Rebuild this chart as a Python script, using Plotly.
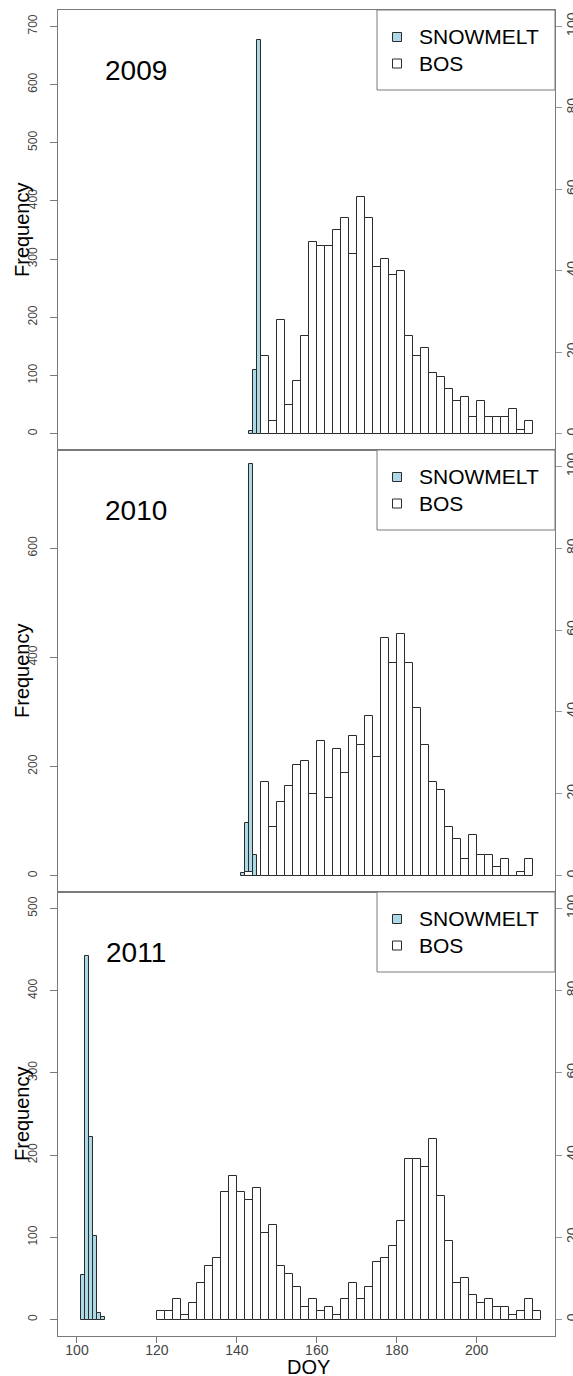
import plotly.graph_objects as go

# ---------------- data ----------------
# Snowmelt histograms (1-day bins, left axis counts)
snow_2009_edges = [143, 144, 145]
snow_2009_counts = [4, 109, 676]
snow_2010_edges = [141, 142, 143, 144]
snow_2010_counts = [5, 96, 754, 38]
snow_2011_edges = [101, 102, 103, 104, 105, 106]
snow_2011_counts = [54, 442, 222, 102, 8, 3]

# BOS histograms (2-day bins, right axis counts)
bos_2009_start = 146
bos_2009_counts = [19, 3, 28, 7, 13, 24, 47, 46, 46, 50, 53, 44, 58, 53, 41, 43, 39,
                   40, 24, 19, 21, 15, 14, 11, 8, 9, 4, 8, 4, 4, 4, 6, 1, 3]
bos_2010_start = 142
bos_2010_counts = [1, 0, 23, 12, 18, 22, 27, 28, 20, 33, 19, 31, 25, 34, 32, 39, 29,
                   58, 52, 59, 52, 41, 32, 23, 21, 12, 9, 4, 10, 5, 5, 2, 4, 0, 1, 4]
bos_2011_start = 120
bos_2011_counts = [2, 2, 5, 1, 4, 9, 13, 15, 31, 35, 31, 29, 32, 21, 23, 13, 11, 8,
                   3, 5, 2, 3, 1, 5, 9, 5, 8, 14, 15, 18, 24, 39, 39, 37, 44, 30, 19,
                   9, 10, 6, 4, 5, 3, 3, 1, 2, 5, 2]

years = ["2009", "2010", "2011"]
left_max = [700, 750, 500]
left_ticks = [[0, 100, 200, 300, 400, 500, 600, 700], [0, 200, 400, 600],
              [0, 100, 200, 300, 400, 500]]
right_ticks = [0, 20, 40, 60, 80, 100]
x_ticks = [100, 120, 140, 160, 180, 200]
x_range = [95.25, 219.6]

# ---------------- layout geometry (pixels) ----------------
W, H = 573, 1376
ML, MR, MT, MB = 58, 18, 10, 40
panel_px = [(10, 450), (450, 892), (892, 1336)]  # top, bottom
plot_h = H - MT - MB
plot_w = W - ML - MR


def py(Y):
    return (H - MB - Y) / plot_h


FONT = "Liberation Sans, Arial, Helvetica, sans-serif"
BOX = "#7a7a7a"
BAR_LINE = "#2b2b2b"
SNOW = "#add8e6"
TICKFONT = "#444444"

fig = go.Figure()

snow_edges = [snow_2009_edges, snow_2010_edges, snow_2011_edges]
snow_counts = [snow_2009_counts, snow_2010_counts, snow_2011_counts]
bos_starts = [bos_2009_start, bos_2010_start, bos_2011_start]
bos_counts = [bos_2009_counts, bos_2010_counts, bos_2011_counts]

xnames = ["x2", "x3", "x"]
for i in range(3):
    xa = xnames[i]
    yl = "y" if i == 0 else f"y{2 * i + 1}"
    yr = f"y{2 * i + 2}"
    fig.add_trace(go.Bar(
        x=[e + 0.5 for e in snow_edges[i]], y=snow_counts[i], width=1.0,
        marker=dict(color=SNOW, line=dict(color=BAR_LINE, width=1)),
        name="SNOWMELT", showlegend=False, xaxis=xa, yaxis=yl))
    bc = bos_counts[i]
    fig.add_trace(go.Bar(
        x=[bos_starts[i] + 2 * k + 1 for k in range(len(bc))], y=bc, width=2.0,
        marker=dict(color="white", line=dict(color=BAR_LINE, width=1)),
        name="BOS", showlegend=False, xaxis=xa, yaxis=yr))

layout = dict(
    width=W, height=H, template="none",
    margin=dict(l=ML, r=MR, t=MT, b=MB, pad=0),
    paper_bgcolor="white", plot_bgcolor="white",
    barmode="overlay", bargap=0, showlegend=False,
    font=dict(family=FONT, color="black"),
)

common_x = dict(range=x_range, showgrid=False, zeroline=False, showline=True,
                mirror=True, linecolor=BOX, linewidth=1, automargin=False)
layout["xaxis"] = dict(common_x, anchor="y5", tickvals=x_ticks, ticks="outside",
                       ticklen=6, tickcolor=BOX, tickfont=dict(size=14, color=TICKFONT),
                       ticklabelstandoff=-5)
layout["xaxis2"] = dict(common_x, anchor="y", matches="x", showticklabels=False, ticks="")
layout["xaxis3"] = dict(common_x, anchor="y3", matches="x", showticklabels=False, ticks="")

anchors = ["x2", "x3", "x"]
annotations = []
shapes = []
for i in range(3):
    top, bot = panel_px[i]
    dom = [py(bot), py(top)]
    L = left_max[i]
    lname = "yaxis" if i == 0 else f"yaxis{2 * i + 1}"
    rname = f"yaxis{2 * i + 2}"
    lref = "y" if i == 0 else f"y{2 * i + 1}"
    layout[lname] = dict(
        domain=dom, anchor=anchors[i], range=[-0.04 * L, 1.04 * L],
        tickvals=left_ticks[i], tickangle=-90, ticks="outside", ticklen=7,
        tickcolor=BOX, tickfont=dict(size=12, color=TICKFONT), showgrid=False,
        zeroline=False, showline=True, mirror=True, linecolor=BOX, linewidth=1,
        automargin=False, ticklabelstandoff=8)
    layout[rname] = dict(
        overlaying=lref, side="right", anchor=anchors[i], range=[-4, 104],
        tickvals=right_ticks, tickangle=-90, ticks="outside", ticklen=6,
        tickcolor="#999999", tickfont=dict(size=14, color=TICKFONT), showgrid=False,
        zeroline=False, showline=False, automargin=False, ticklabelstandoff=-2)

    ph = bot - top
    xr = anchors[i] + " domain"
    yr = lref + " domain"

    def fx(X):
        return (X - ML) / plot_w

    def fy(Y):
        return 1 - (Y - top) / ph

    # legend box
    shapes.append(dict(type="rect", xref=xr, yref=yr, x0=fx(377), x1=1.0, y0=fy(top + 80),
                       y1=1.0, line=dict(color=BOX, width=1), fillcolor="white"))
    for j, (lab, col) in enumerate([("SNOWMELT", SNOW), ("BOS", "white")]):
        cy = top + 27 + 26.5 * j
        shapes.append(dict(type="rect", xref=xr, yref=yr, x0=fx(392.5), x1=fx(401.5),
                           y0=fy(cy + 4.5), y1=fy(cy - 4.5),
                           line=dict(color=BAR_LINE, width=1), fillcolor=col))
        annotations.append(dict(text=lab, xref=xr, yref=yr, x=fx(417), y=fy(cy - 0.5),
                                xanchor="left", yanchor="middle", showarrow=False,
                                font=dict(size=21, color="black", family=FONT)))
    # year label
    annotations.append(dict(text=years[i], xref=xr, yref=yr, x=fx(135.5), y=fy(top + 60),
                            xanchor="center", yanchor="middle", showarrow=False,
                            font=dict(size=28, color="black", family=FONT)))
    # y title
    annotations.append(dict(text="Frequency", xref="paper", yref=yr, x=(22 - ML) / plot_w,
                            y=0.5, xanchor="center", yanchor="middle", textangle=-90,
                            showarrow=False, font=dict(size=20, color="black", family=FONT)))

annotations.append(dict(text="DOY", xref="paper", yref="paper", x=(308 - ML) / plot_w,
                        y=py(1367), xanchor="center", yanchor="middle", showarrow=False,
                        font=dict(size=20, color="black", family=FONT)))

layout["shapes"] = shapes
layout["annotations"] = annotations
fig.update_layout(**layout)
fig.write_html("out.html")
